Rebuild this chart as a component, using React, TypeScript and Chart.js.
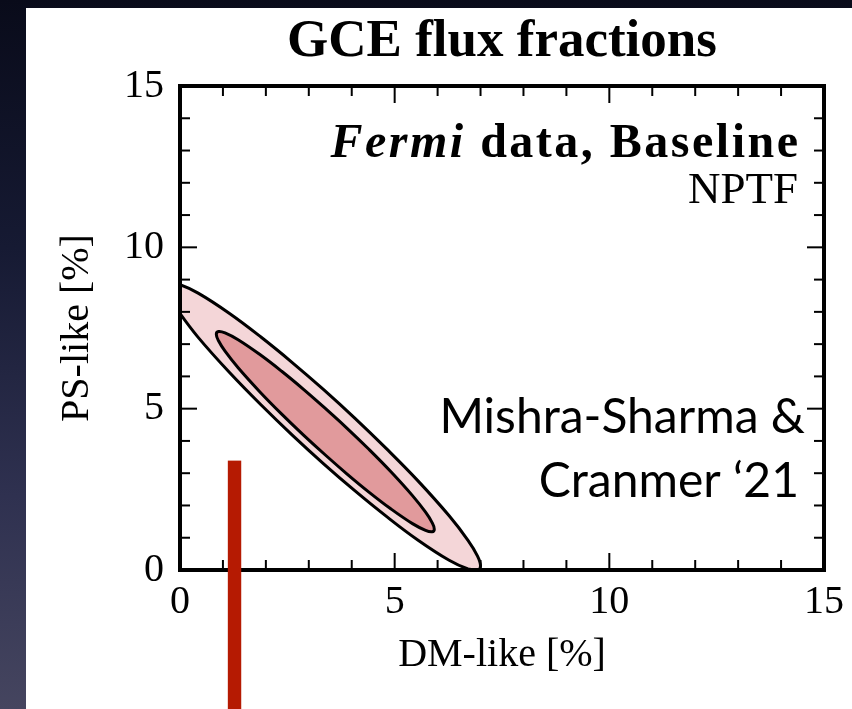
import React, { useEffect, useRef } from "react";
import { Chart, registerables } from "chart.js";

Chart.register(...registerables);

// 95% contour (outer), in data units [%]
const outerX = [-0.308, -0.235, -0.015, 0.423, 1.154, 1.885, 2.615, 3.346, 4.077, 4.808, 5.538, 6.269, 6.708, 6.927, 7.0, 6.927, 6.708, 6.269, 5.538, 4.808, 4.077, 3.346, 2.615, 1.885, 1.154, 0.423, -0.015, -0.235, -0.308];
const outerY = [8.76, 8.895, 8.85, 8.58, 7.95, 7.22, 6.43, 5.59, 4.70, 3.76, 2.77, 1.68, 0.92, 0.44, 0.124, -0.011, 0.03, 0.30, 0.93, 1.66, 2.45, 3.29, 4.18, 5.12, 6.12, 7.21, 7.977, 8.45, 8.76];

// 68% contour (inner)
const innerX = [3.385, 3.892, 4.4, 4.908, 5.415, 5.72, 5.872, 5.923, 5.872, 5.72, 5.415, 4.908, 4.4, 3.892, 3.385, 2.877, 2.369, 1.862, 1.354, 1.049, 0.897, 0.846, 0.897, 1.049, 1.354, 1.862, 2.369, 2.877, 3.385];
const innerY = [5.01, 4.391, 3.741, 3.053, 2.305, 1.791, 1.47, 1.266, 1.186, 1.228, 1.437, 1.897, 2.415, 2.974, 3.564, 4.181, 4.831, 5.519, 6.268, 6.781, 7.104, 7.307, 7.391, 7.349, 7.137, 6.677, 6.159, 5.6, 5.01];

const majorTicks = [0, 5, 10, 15];
const minorTicks = [1, 2, 3, 4, 6, 7, 8, 9, 11, 12, 13, 14];

// red marker bar (slide overlay)
const markerX = 1.27;
const markerTop = 3.39;

const SERIF = '"Liberation Serif", "Times New Roman", serif';
const SANS = 'Lato, "Open Sans", sans-serif';

const overlayPlugin = {
  id: "overlay",
  afterDatasetsDraw(chart: any) {
    const { ctx, chartArea: a, scales } = chart;
    const xs = scales.x;
    const ys = scales.y;
    ctx.save();
    ctx.strokeStyle = "#000";
    ctx.lineCap = "butt";
    const seg = (x1: number, y1: number, x2: number, y2: number) => {
      ctx.beginPath();
      ctx.moveTo(x1, y1);
      ctx.lineTo(x2, y2);
      ctx.stroke();
    };
    ctx.lineWidth = 2;
    const tick = (v: number, len: number) => {
      const px = xs.getPixelForValue(v);
      seg(px, a.bottom, px, a.bottom - len);
      seg(px, a.top, px, a.top + len);
      const py = ys.getPixelForValue(v);
      seg(a.left, py, a.left + len, py);
      seg(a.right, py, a.right - len, py);
    };
    majorTicks.forEach((v) => tick(v, 17));
    minorTicks.forEach((v) => tick(v, 10));
    ctx.lineWidth = 4;
    ctx.strokeRect(a.left, a.top, a.right - a.left, a.bottom - a.top);
    ctx.restore();
  },
  afterDraw(chart: any) {
    const { ctx, scales } = chart;
    const xs = scales.x;
    const ys = scales.y;
    ctx.save();
    // red marker
    const mx = xs.getPixelForValue(markerX);
    const mt = ys.getPixelForValue(markerTop);
    ctx.fillStyle = "#b51a02";
    ctx.fillRect(mx - 6.7, mt, 13.4, chart.height - mt);

    // annotations
    ctx.fillStyle = "#000";
    ctx.textBaseline = "alphabetic";
    ctx.textAlign = "left";
    const right = 772;
    const sp = 2.5;
    (ctx as any).letterSpacing = sp + "px";
    ctx.font = `bold italic 48px ${SERIF}`;
    const wFermi = ctx.measureText("Fermi").width;
    ctx.font = `bold 48px ${SERIF}`;
    const rest = " data, Baseline";
    const wRest = ctx.measureText(rest).width;
    const start = right - wFermi - wRest + sp;
    ctx.font = `bold italic 48px ${SERIF}`;
    ctx.fillText("Fermi", start, 149);
    ctx.font = `bold 48px ${SERIF}`;
    ctx.fillText(rest, start + wFermi, 149);
    (ctx as any).letterSpacing = "0px";
    ctx.textAlign = "right";
    ctx.font = `45px ${SERIF}`;
    ctx.fillText("NPTF", right, 195);

    ctx.font = `48px ${SANS}`;
    ctx.fillText("Mishra-Sharma &", 779, 425);
    ctx.fillText("Cranmer \u201821", 773, 489);
    ctx.restore();
  },
};

export default function App() {
  const canvasRef = useRef<HTMLCanvasElement>(null);

  useEffect(() => {
    if (!canvasRef.current) return;
    const toPts = (xs: number[], ys: number[]) => xs.map((x, i) => ({ x, y: ys[i] }));
    const chart = new Chart(canvasRef.current, {
      type: "line",
      data: {
        datasets: [
          {
            label: "68%",
            data: toPts(innerX, innerY),
            borderColor: "#000",
            borderWidth: 3,
            backgroundColor: "#e19a9c",
            fill: "shape",
            tension: 0.4,
            pointRadius: 0,
            clip: 0,
          },
          {
            label: "95%",
            data: toPts(outerX, outerY),
            borderColor: "#000",
            borderWidth: 3,
            backgroundColor: "#f4d6d8",
            fill: "shape",
            tension: 0.4,
            pointRadius: 0,
            clip: 0,
          },
        ],
      },
      options: {
        animation: false,
        responsive: true,
        maintainAspectRatio: false,
        layout: { padding: { top: 0, left: 0, right: 22, bottom: 0 } },
        plugins: {
          legend: { display: false },
          tooltip: { enabled: false },
          title: {
            display: true,
            text: "GCE flux fractions",
            fullSize: false,
            color: "#000",
            font: { family: SERIF, size: 53, weight: "bold", lineHeight: 1 },
            padding: { top: 8, bottom: 17 },
          },
        },
        scales: {
          x: {
            type: "linear",
            min: 0,
            max: 15,
            afterFit: (s: any) => {
              s.height = 139;
            },
            afterBuildTicks: (s: any) => {
              s.ticks = majorTicks.map((v) => ({ value: v }));
            },
            grid: { display: false, drawTicks: false },
            border: { display: false },
            ticks: {
              autoSkip: false,
              maxRotation: 0,
              color: "#000",
              padding: 8,
              font: { family: SERIF, size: 40 },
              callback: (v: any) => String(v),
            },
            title: {
              display: true,
              text: "DM-like [%]",
              color: "#000",
              font: { family: SERIF, size: 40 },
              padding: { top: 0, bottom: 30 },
            },
          },
          y: {
            type: "linear",
            min: 0,
            max: 15,
            afterFit: (s: any) => {
              s.width = 154;
            },
            afterBuildTicks: (s: any) => {
              s.ticks = majorTicks.map((v) => ({ value: v }));
            },
            grid: { display: false, drawTicks: false },
            border: { display: false },
            ticks: {
              autoSkip: false,
              color: "#000",
              padding: 16,
              font: { family: SERIF, size: 40 },
              callback: (v: any) => String(v),
            },
            title: {
              display: true,
              text: "PS-like [%]",
              color: "#000",
              font: { family: SERIF, size: 40 },
              padding: { top: 27, bottom: 0 },
            },
          },
        },
      },
      plugins: [overlayPlugin],
    } as any);
    return () => chart.destroy();
  }, []);

  return (
    <div
      style={{
        position: "fixed",
        left: 0,
        top: 0,
        width: 852,
        height: 709,
        background: "linear-gradient(to bottom, #090b1a 0%, #161a33 35%, #2f3150 70%, #45455f 100%)",
        overflow: "hidden",
      }}
    >
      <div
        style={{
          position: "absolute",
          left: 26,
          top: 8,
          width: 826,
          height: 701,
          background: "#fff",
        }}
      >
        <canvas ref={canvasRef} />
      </div>
    </div>
  );
}
